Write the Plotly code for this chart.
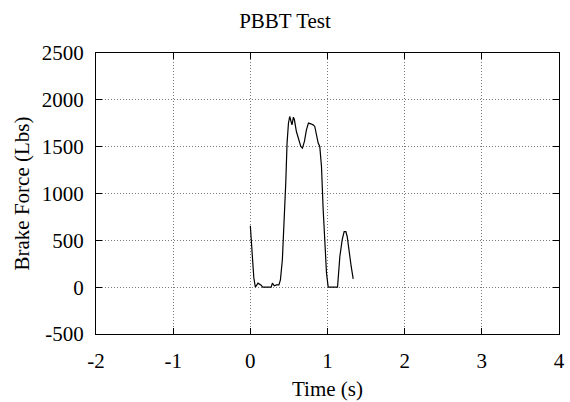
import plotly.graph_objects as go

# PBBT brake force trace
time_s = [0.0, 0.02, 0.045, 0.065, 0.1, 0.14, 0.16, 0.27, 0.286, 0.31, 0.34, 0.37, 0.39,
          0.415, 0.437, 0.459, 0.476, 0.494, 0.51, 0.528, 0.54, 0.558, 0.571, 0.597,
          0.628, 0.654, 0.675, 0.701, 0.727, 0.753, 0.784, 0.814, 0.835, 0.857, 0.879,
          0.9, 0.922, 0.944, 0.965, 0.987, 1.009, 1.13, 1.16, 1.19, 1.216, 1.238,
          1.255, 1.28, 1.307, 1.333]
brake_force = [655, 380, 100, 0, 43, 21, 0, 0, 43, 15, 25, 25, 78,
               292, 648, 1110, 1538, 1750, 1822, 1750, 1733, 1815, 1787, 1662,
               1573, 1502, 1484, 1556, 1680, 1752, 1744, 1733, 1716, 1609, 1538,
               1502, 1289, 826, 434, 150, 0, 0, 327, 505, 594, 594,
               541, 363, 221, 89]

x_ticks = [-2, -1, 0, 1, 2, 3, 4]
y_ticks = [-500, 0, 500, 1000, 1500, 2000, 2500]

font = "Liberation Serif, Times New Roman, serif"
fsize = 21

fig = go.Figure(go.Scatter(x=time_s, y=brake_force, mode="lines",
                           line=dict(color="black", width=1.2), showlegend=False))

axis_style = dict(showline=True, linecolor="black", linewidth=1.2, mirror="ticks",
                  ticks="inside", ticklen=6, tickcolor="black", automargin=False,
                  showgrid=True, gridcolor="#7a7a7a", griddash="1px,2px", gridwidth=1,
                  zeroline=False, tickfont=dict(family=font, size=fsize, color="black"))

fig.update_xaxes(range=[-2, 4], tickvals=x_ticks, ticktext=[str(v) for v in x_ticks],
                 ticklabelstandoff=8,
                 title=dict(text="Time (s)", font=dict(family=font, size=fsize, color="black"), standoff=9),
                 **axis_style)
fig.update_yaxes(range=[-500, 2500], tickvals=y_ticks, ticktext=[str(v) for v in y_ticks],
                 ticklabelstandoff=7,
                 title=dict(text="Brake Force (Lbs)", font=dict(family=font, size=fsize, color="black"), standoff=6),
                 **axis_style)

fig.update_layout(
    width=570, height=402,
    margin=dict(l=96, r=11, t=53, b=68),
    plot_bgcolor="white", paper_bgcolor="white",
    title=dict(text="PBBT Test", x=0.5, xanchor="center", y=0.948, yanchor="middle",
               font=dict(family=font, size=fsize, color="black")),
)

# drop the page's default body margin so the figure fills the window
fig.write_html("out.html", config={"displayModeBar": False},
               post_script="document.body.style.margin='0';")
